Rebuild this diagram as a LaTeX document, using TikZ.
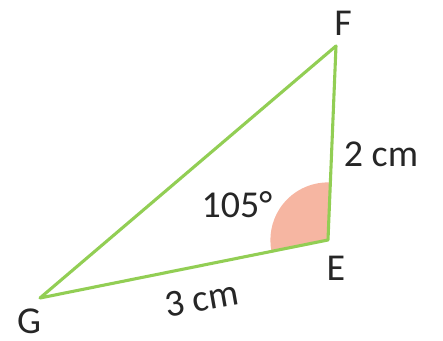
\documentclass[tikz,border=0pt]{standalone}
\usepackage{fontspec}
\setmainfont{Carlito}
\usetikzlibrary{angles}
\definecolor{sidegreen}{RGB}{146,206,84}
\definecolor{wedgepink}{RGB}{246,182,162}
\begin{document}
\begin{tikzpicture}[x=0.025cm,y=-0.025cm,
	lbl/.style={font=\fontsize{27}{30}\selectfont,text=black!85,inner sep=0pt}]
			\useasboundingbox (0,0) rectangle (443,341);
			\coordinate (F) at (336,46);
			\coordinate (E) at (328,240);
			\coordinate (G) at (40,298);
			\pic[fill=wedgepink,angle radius=1.44cm] {angle=F--E--G};
			\draw[sidegreen,line width=2.2pt,line join=round] (G) -- (E) -- (F) -- cycle;
			\node[lbl] (lF) at (343,23) {F};
			\node[lbl] (lE) at (336,268) {E};
			\node[lbl] (lG) at (29,321) {G};
			\node[lbl] (lEF) at (381,154) {2 cm};
			\node[lbl,rotate=10] (lGE) at (202,299) {3 cm};
			\node[lbl] (lang) at (237,205) {105\textdegree};
		\end{tikzpicture}
\end{document}
